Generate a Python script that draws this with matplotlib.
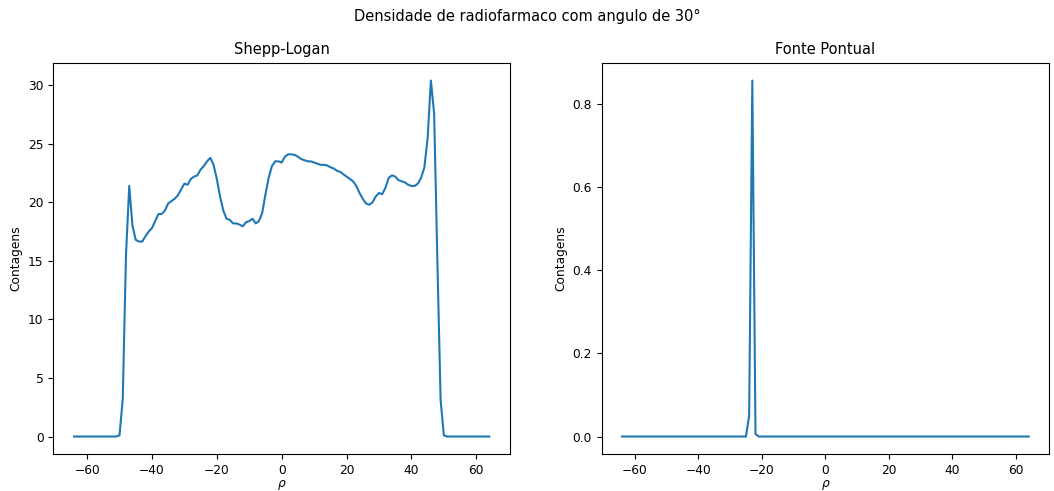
import numpy as np
import matplotlib
matplotlib.use("Agg")
import matplotlib.pyplot as plt

plt.rcParams["font.size"] = 8.8

# posicoes radiais (rho) de -64 a 64
rho = np.arange(-64, 65)

# Shepp-Logan: valores lidos a partir de rho = -50 ate rho = 50
shepp_core = [
    0.1, 3.2, 15.5, 21.4, 18.0, 16.8, 16.65, 16.65, 17.1, 17.5,   # -50..-41
    17.8, 18.4, 19.0, 19.0, 19.3, 19.9, 20.1, 20.3, 20.6, 21.1,   # -40..-31
    21.6, 21.5, 22.0, 22.2, 22.3, 22.8, 23.1, 23.5, 23.8, 23.2,   # -30..-21
    22.0, 20.5, 19.3, 18.6, 18.5, 18.2, 18.2, 18.1, 17.95, 18.3,  # -20..-11
    18.4, 18.6, 18.2, 18.4, 19.1, 20.7, 22.1, 23.1, 23.5, 23.5,   # -10..-1
    23.4, 23.9, 24.1, 24.1, 24.05, 23.9, 23.7, 23.6, 23.5, 23.5,  # 0..9
    23.4, 23.3, 23.2, 23.2, 23.15, 23.0, 22.9, 22.7, 22.6, 22.4,  # 10..19
    22.2, 22.0, 21.8, 21.4, 20.8, 20.3, 19.9, 19.8, 20.0, 20.5,   # 20..29
    20.8, 20.7, 21.25, 22.1, 22.3, 22.2, 21.9, 21.8, 21.7, 21.5,  # 30..39
    21.4, 21.4, 21.6, 22.1, 23.0, 25.5, 30.4, 27.6, 15.0, 3.1,    # 40..49
    0.1,                                                          # 50
]
shepp = np.zeros(len(rho))
shepp[14:14 + len(shepp_core)] = shepp_core

# Fonte pontual: pico em rho = -23
fonte = np.zeros(len(rho))
fonte[rho == -24] = 0.05
fonte[rho == -23] = 0.857
fonte[rho == -22] = 0.006

fig = plt.figure(figsize=(10.54, 4.91), dpi=100)
ax1 = fig.add_axes([0.0506, 0.0747, 0.4333, 0.7975])
ax2 = fig.add_axes([0.5709, 0.0747, 0.4244, 0.7975])

ax1.plot(rho, shepp)
ax1.set_title("Shepp-Logan")
ax1.set_xlabel(r"$\rho$", labelpad=1)
ax1.set_ylabel("Contagens")

ax2.plot(rho, fonte)
ax2.set_title("Fonte Pontual")
ax2.set_xlabel(r"$\rho$", labelpad=1)
ax2.set_ylabel("Contagens")

fig.suptitle("Densidade de radiofarmaco com angulo de 30°", y=0.982)

fig.savefig("out.png", dpi=100)
